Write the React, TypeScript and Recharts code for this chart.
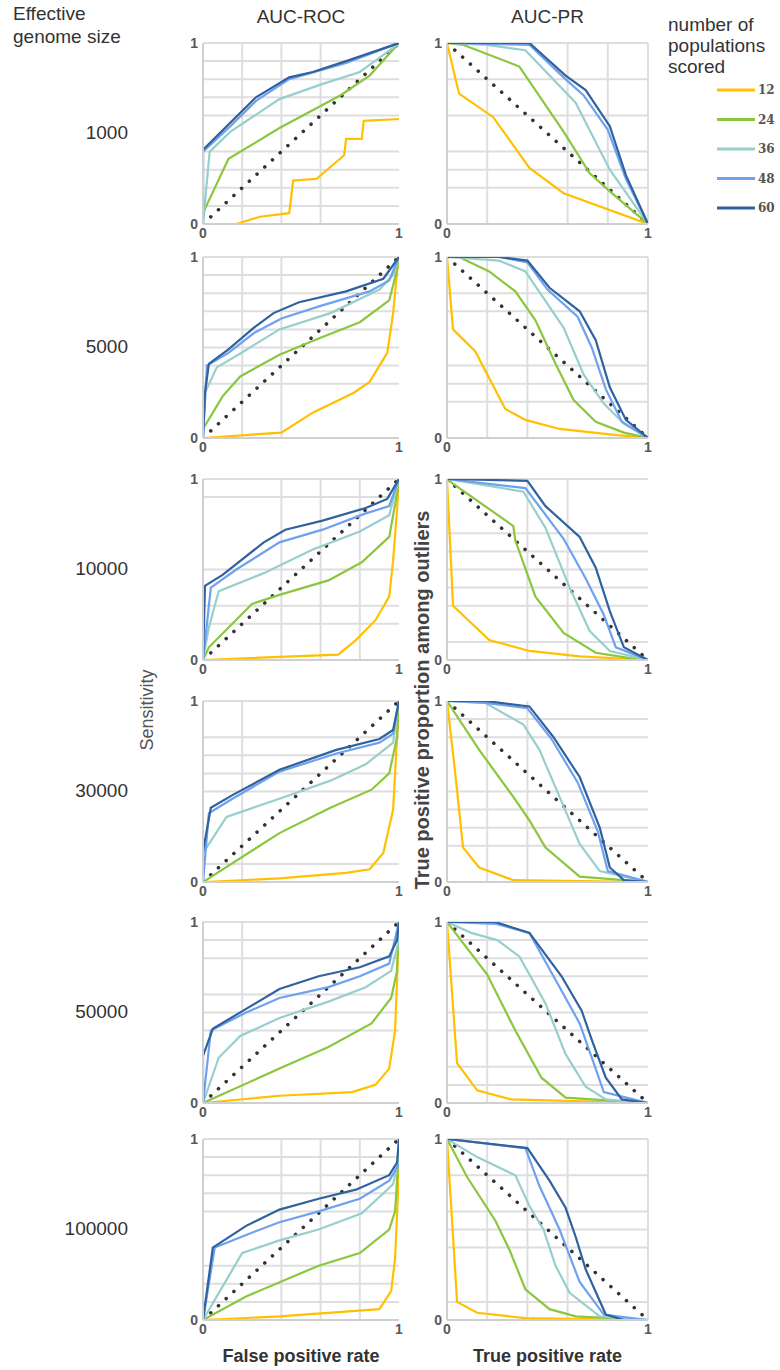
import { LineChart, Line, XAxis, YAxis, ReferenceLine } from 'recharts';

type Pt = [number, number];

// categories
const POPULATIONS = ['12', '24', '36', '48', '60'];
const GENOME_SIZES = ['1000', '5000', '10000', '30000', '50000', '100000'];
const AXIS_TICKS = [0, 1];

// reference diagonals (random classifier)
const ROC_DIAG: Pt[] = [[0, 0], [1, 1]];
const PR_DIAG: Pt[] = [[0, 1], [1, 0]];

// AUC-ROC curves, one list per population count (12, 24, 36, 48, 60)
const ROC_1000: Pt[][] = [
  [[0, 0], [0.17, 0], [0.29, 0.04], [0.44, 0.06], [0.46, 0.24], [0.58, 0.25], [0.72, 0.38], [0.73, 0.47], [0.81, 0.47], [0.82, 0.57], [1, 0.58]],
  [[0, 0.06], [0.13, 0.36], [0.39, 0.53], [0.7, 0.71], [0.85, 0.82], [1, 1]],
  [[0, 0], [0.034, 0.4], [0.14, 0.51], [0.39, 0.69], [0.6, 0.77], [0.8, 0.84], [0.94, 0.95], [1, 1]],
  [[0, 0.02], [0, 0.4], [0.14, 0.54], [0.27, 0.68], [0.44, 0.8], [0.73, 0.89], [1, 1]],
  [[0, 0], [0, 0.41], [0.14, 0.56], [0.27, 0.7], [0.44, 0.81], [0.56, 0.84], [0.73, 0.9], [1, 1]],
];
const ROC_5000: Pt[][] = [
  [[0, 0], [0.4, 0.03], [0.56, 0.14], [0.77, 0.25], [0.85, 0.31], [0.94, 0.47], [0.97, 0.69], [0.995, 0.97], [1, 1]],
  [[0, 0.05], [0.1, 0.23], [0.19, 0.34], [0.39, 0.46], [0.59, 0.55], [0.8, 0.64], [0.95, 0.76], [0.99, 0.93], [1, 1]],
  [[0, 0], [0.01, 0.25], [0.07, 0.39], [0.18, 0.46], [0.39, 0.6], [0.65, 0.69], [0.9, 0.82], [0.97, 0.9], [1, 1]],
  [[0, 0], [0.02, 0.4], [0.13, 0.47], [0.26, 0.58], [0.4, 0.66], [0.6, 0.73], [0.85, 0.81], [0.95, 0.87], [1, 1]],
  [[0, 0], [0.01, 0.25], [0.03, 0.41], [0.13, 0.49], [0.26, 0.61], [0.36, 0.69], [0.49, 0.75], [0.73, 0.81], [0.92, 0.88], [1, 1]],
];
const ROC_10000: Pt[][] = [
  [[0, 0], [0.69, 0.03], [0.78, 0.11], [0.88, 0.22], [0.95, 0.35], [0.97, 0.55], [0.99, 0.83], [1, 1]],
  [[0, 0], [0.03, 0.07], [0.25, 0.31], [0.39, 0.36], [0.64, 0.44], [0.81, 0.54], [0.95, 0.68], [0.99, 0.92], [1, 1]],
  [[0, 0], [0.03, 0.18], [0.08, 0.38], [0.31, 0.48], [0.56, 0.61], [0.8, 0.71], [0.95, 0.8], [1, 1]],
  [[0, 0], [0.04, 0.4], [0.17, 0.5], [0.39, 0.65], [0.61, 0.72], [0.83, 0.81], [0.95, 0.85], [1, 1]],
  [[0, 0], [0.01, 0.41], [0.1, 0.47], [0.31, 0.65], [0.42, 0.72], [0.61, 0.77], [0.83, 0.84], [0.94, 0.89], [1, 1]],
];
const ROC_30000: Pt[][] = [
  [[0, 0], [0.39, 0.02], [0.73, 0.05], [0.85, 0.07], [0.92, 0.16], [0.97, 0.4], [0.99, 0.8], [1, 1]],
  [[0, 0], [0.39, 0.27], [0.65, 0.41], [0.86, 0.51], [0.95, 0.6], [0.99, 0.8], [1, 1]],
  [[0, 0], [0, 0.16], [0.12, 0.36], [0.39, 0.46], [0.65, 0.56], [0.83, 0.65], [0.97, 0.77], [1, 1]],
  [[0, 0], [0.03, 0.38], [0.15, 0.46], [0.39, 0.61], [0.68, 0.71], [0.9, 0.77], [0.97, 0.82], [1, 1]],
  [[0, 0], [0, 0.17], [0.04, 0.41], [0.15, 0.48], [0.39, 0.62], [0.68, 0.73], [0.9, 0.79], [0.97, 0.84], [1, 1]],
];
const ROC_50000: Pt[][] = [
  [[0, 0], [0.39, 0.04], [0.76, 0.06], [0.88, 0.1], [0.95, 0.19], [0.98, 0.4], [0.99, 0.68], [1, 1]],
  [[0, 0], [0.39, 0.19], [0.64, 0.31], [0.86, 0.44], [0.96, 0.58], [0.99, 0.73], [1, 1]],
  [[0, 0], [0.08, 0.25], [0.19, 0.37], [0.39, 0.47], [0.64, 0.56], [0.83, 0.64], [0.96, 0.73], [1, 0.9], [1, 1]],
  [[0, 0], [0.04, 0.4], [0.22, 0.5], [0.39, 0.58], [0.64, 0.64], [0.8, 0.7], [0.95, 0.77], [1, 1]],
  [[0, 0], [0, 0.26], [0.05, 0.41], [0.22, 0.52], [0.39, 0.63], [0.59, 0.7], [0.8, 0.75], [0.95, 0.81], [0.99, 0.9], [1, 1]],
];
const ROC_100000: Pt[][] = [
  [[0, 0], [0.39, 0.02], [0.9, 0.06], [0.96, 0.16], [0.98, 0.34], [1, 0.83], [1, 1]],
  [[0, 0], [0.22, 0.13], [0.59, 0.3], [0.8, 0.37], [0.95, 0.5], [0.98, 0.6], [1, 0.94], [1, 1]],
  [[0, 0], [0.2, 0.37], [0.39, 0.44], [0.59, 0.5], [0.81, 0.59], [0.97, 0.75], [1, 0.9]],
  [[0, 0], [0.06, 0.4], [0.22, 0.47], [0.39, 0.54], [0.59, 0.6], [0.8, 0.67], [0.95, 0.77], [1, 0.86]],
  [[0, 0], [0.05, 0.4], [0.22, 0.52], [0.39, 0.61], [0.59, 0.67], [0.78, 0.72], [0.95, 0.8], [0.99, 0.87], [1, 1]],
];

// AUC-PR curves, one list per population count (12, 24, 36, 48, 60)
const PR_1000: Pt[][] = [
  [[0, 1], [0.06, 0.72], [0.23, 0.59], [0.41, 0.31], [0.58, 0.17], [1, 0]],
  [[0, 1], [0.08, 0.99], [0.36, 0.87], [0.58, 0.51], [0.71, 0.28], [0.81, 0.18], [1, 0]],
  [[0, 1], [0.2, 0.99], [0.39, 0.96], [0.64, 0.67], [0.81, 0.3], [1, 0]],
  [[0, 1], [0.41, 0.99], [0.58, 0.81], [0.68, 0.71], [0.8, 0.52], [0.89, 0.25], [1, 0]],
  [[0, 1], [0.41, 1], [0.59, 0.82], [0.69, 0.74], [0.81, 0.54], [0.89, 0.27], [1, 0]],
];
const PR_5000: Pt[][] = [
  [[0, 1], [0.03, 0.6], [0.14, 0.48], [0.29, 0.16], [0.39, 0.1], [0.56, 0.05], [0.81, 0.02], [1, 0]],
  [[0, 1], [0.06, 1], [0.21, 0.92], [0.34, 0.81], [0.44, 0.65], [0.54, 0.41], [0.63, 0.21], [0.74, 0.09], [0.88, 0.03], [1, 0]],
  [[0, 1], [0.26, 0.98], [0.39, 0.92], [0.58, 0.61], [0.68, 0.35], [0.78, 0.19], [0.88, 0.08], [1, 0]],
  [[0, 1], [0.26, 1], [0.4, 0.97], [0.5, 0.82], [0.65, 0.67], [0.72, 0.5], [0.79, 0.27], [0.87, 0.09], [1, 0]],
  [[0, 1], [0.26, 1], [0.4, 0.98], [0.51, 0.83], [0.66, 0.7], [0.74, 0.54], [0.81, 0.28], [0.89, 0.1], [1, 0]],
];
const PR_10000: Pt[][] = [
  [[0, 1], [0.03, 0.3], [0.21, 0.11], [0.41, 0.05], [0.66, 0.02], [1, 0]],
  [[0, 1], [0.01, 0.99], [0.33, 0.74], [0.34, 0.66], [0.44, 0.35], [0.58, 0.15], [0.74, 0.04], [0.91, 0.01], [1, 0]],
  [[0, 1], [0.38, 0.93], [0.49, 0.73], [0.61, 0.4], [0.71, 0.16], [0.81, 0.05], [1, 0]],
  [[0, 1], [0.39, 0.95], [0.58, 0.67], [0.69, 0.45], [0.78, 0.25], [0.84, 0.07], [1, 0]],
  [[0, 1], [0.4, 0.99], [0.49, 0.85], [0.66, 0.68], [0.74, 0.51], [0.81, 0.27], [0.88, 0.07], [1, 0]],
];
const PR_30000: Pt[][] = [
  [[0, 1], [0.04, 0.61], [0.08, 0.19], [0.16, 0.08], [0.33, 0.01], [1, 0]],
  [[0, 1], [0.16, 0.73], [0.33, 0.47], [0.41, 0.34], [0.49, 0.19], [0.66, 0.03], [1, 0]],
  [[0, 1], [0.19, 0.99], [0.38, 0.87], [0.46, 0.73], [0.56, 0.47], [0.66, 0.21], [0.76, 0.06], [1, 0]],
  [[0, 1], [0.19, 0.99], [0.4, 0.96], [0.52, 0.79], [0.65, 0.55], [0.75, 0.28], [0.8, 0.06], [1, 0]],
  [[0, 1], [0.19, 1], [0.41, 0.97], [0.53, 0.8], [0.66, 0.58], [0.76, 0.3], [0.81, 0.08], [0.88, 0.01], [1, 0]],
];
const PR_50000: Pt[][] = [
  [[0, 1], [0.05, 0.22], [0.15, 0.07], [0.32, 0.02], [1, 0]],
  [[0, 1], [0.2, 0.71], [0.34, 0.4], [0.47, 0.14], [0.59, 0.03], [1, 0]],
  [[0, 1], [0.12, 0.94], [0.25, 0.9], [0.36, 0.81], [0.49, 0.55], [0.59, 0.27], [0.69, 0.09], [0.79, 0.02], [1, 0]],
  [[0, 1], [0.24, 0.99], [0.41, 0.94], [0.55, 0.66], [0.66, 0.44], [0.73, 0.22], [0.78, 0.06], [1, 0]],
  [[0, 1], [0.24, 1], [0.41, 0.94], [0.57, 0.7], [0.67, 0.51], [0.72, 0.35], [0.79, 0.14], [0.87, 0.02], [1, 0]],
];
const PR_100000: Pt[][] = [
  [[0, 1], [0.05, 0.1], [0.15, 0.04], [0.39, 0.01], [1, 0]],
  [[0, 1], [0.1, 0.79], [0.24, 0.55], [0.31, 0.39], [0.39, 0.17], [0.51, 0.06], [0.64, 0.02], [1, 0]],
  [[0, 1], [0.15, 0.9], [0.34, 0.8], [0.41, 0.63], [0.48, 0.5], [0.54, 0.3], [0.61, 0.15], [0.76, 0.02], [1, 0]],
  [[0, 1], [0.39, 0.95], [0.46, 0.74], [0.56, 0.5], [0.66, 0.21], [0.78, 0.03], [1, 0]],
  [[0, 1], [0.4, 0.95], [0.51, 0.77], [0.59, 0.62], [0.64, 0.46], [0.69, 0.28], [0.79, 0.03], [0.88, 0], [1, 0]],
];

const ROC_ROWS = [ROC_1000, ROC_5000, ROC_10000, ROC_30000, ROC_50000, ROC_100000];
const PR_ROWS = [PR_1000, PR_5000, PR_10000, PR_30000, PR_50000, PR_100000];

// gridlines as they show in each panel
const ROC_HGRID = [
  [0.1, 0.2, 0.3, 0.4, 0.6, 0.7, 0.8, 0.9, 1],
  [0.3, 0.4, 0.5, 0.6, 0.7, 0.8, 0.9, 1],
  [0.2, 0.3, 0.5, 0.9, 1],
  [0.1, 0.5, 0.6, 0.7, 0.8, 1],
  [0.4, 0.5, 0.6, 0.8, 0.9, 1],
  [0.1, 0.2, 0.3, 0.6, 0.7, 0.8, 0.9, 1],
];
const ROC_VGRID = [[0.2, 0.4, 0.6], [0.2, 0.4], [0.4, 0.6, 0.8], [0.2], [0.2], [0.4, 0.6, 0.8]];
const PR_HGRID = [
  [0.2, 0.3, 0.4, 0.6, 0.8, 1],
  [0.2, 0.3, 0.4, 0.7, 0.8, 1],
  [0.1, 0.3, 0.4, 0.5, 0.6, 0.7, 1],
  [0.2, 0.3, 0.4, 0.5, 0.8, 0.9],
  [0.1, 0.2, 0.4, 0.5, 0.7, 0.8, 0.9, 1],
  [0.1, 0.4, 0.5, 0.6, 0.8, 1],
];
const PR_VGRID = [[0.2, 0.6, 0.8, 1], [0.2, 0.4, 1], [0.4, 0.6], [0.2, 0.4], [0.2], [0.2, 0.4, 0.6, 1]];

const COLORS = ['#FFC000', '#8CC63F', '#97CFCC', '#6FA1EE', '#2F629E'];
const GRID = '#dedede';
const FONT = '"Liberation Sans", Arial, sans-serif';

const ROW_TOP = [43, 257, 479, 701, 922, 1139];
const PLOT_H = 181;
const ROC_LEFT = 203;
const ROC_W = 196;
const PR_LEFT = 447;
const PR_W = 201;

const toRows = (pts: Pt[]) => pts.map(([x, y]) => ({ x, y }));

interface PanelProps {
  left: number;
  top: number;
  width: number;
  curves: Pt[][];
  diag: Pt[];
  hGrid: number[];
  vGrid: number[];
}

function Panel({ left, top, width, curves, diag, hGrid, vGrid }: PanelProps) {
  const tick = { fill: '#595959', fontSize: 14, fontWeight: 700, fontFamily: FONT };
  return (
    <div style={{ position: 'absolute', left: left - 30, top: top - 10 }}>
      <LineChart width={width + 42} height={PLOT_H + 32} margin={{ top: 10, right: 12, bottom: 0, left: 0 }}>
        <XAxis
          type="number"
          dataKey="x"
          domain={[0, 1]}
          ticks={AXIS_TICKS}
          interval={0}
          height={22}
          tick={tick}
          tickSize={0}
          tickMargin={4}
          axisLine={{ stroke: '#cfcfcf', strokeWidth: 2 }}
          allowDataOverflow
        />
        <YAxis
          type="number"
          dataKey="y"
          domain={[0, 1]}
          ticks={AXIS_TICKS}
          interval={0}
          width={30}
          tick={tick}
          tickSize={0}
          tickMargin={5}
          axisLine={{ stroke: '#cfcfcf', strokeWidth: 2 }}
          allowDataOverflow
        />
        {hGrid.map((v) => (
          <ReferenceLine key={'h' + v} y={v} stroke={GRID} strokeWidth={2} />
        ))}
        {vGrid.map((v) => (
          <ReferenceLine key={'v' + v} x={v} stroke={GRID} strokeWidth={2} />
        ))}
        <Line
          data={toRows(diag)}
          dataKey="y"
          stroke="#333"
          strokeWidth={3.5}
          strokeDasharray="0.1 10.4"
          strokeLinecap="round"
          dot={false}
          activeDot={false}
          isAnimationActive={false}
        />
        {curves.map((pts, i) => (
          <Line
            key={POPULATIONS[i]}
            data={toRows(pts)}
            dataKey="y"
            name={POPULATIONS[i]}
            stroke={COLORS[i]}
            strokeWidth={2.2}
            dot={false}
            activeDot={false}
            isAnimationActive={false}
          />
        ))}
      </LineChart>
    </div>
  );
}

const text = (extra: React.CSSProperties): React.CSSProperties => ({
  position: 'absolute',
  fontFamily: FONT,
  color: '#333',
  whiteSpace: 'nowrap',
  ...extra,
});

export default function App() {
  return (
    <div style={{ position: 'absolute', left: 0, top: 0, width: 780, height: 1370, background: '#fff', overflow: 'hidden' }}>
      <div style={text({ left: 13, top: 2, fontSize: 19, lineHeight: '23px' })}>
        Effective
        <br />
        genome size
      </div>
      <div style={text({ left: ROC_LEFT, width: ROC_W, top: 6, fontSize: 19, textAlign: 'center' })}>AUC-ROC</div>
      <div style={text({ left: PR_LEFT, width: PR_W, top: 6, fontSize: 19, textAlign: 'center' })}>AUC-PR</div>
      <div style={text({ left: 668, top: 14, fontSize: 19, lineHeight: '21px' })}>
        number of
        <br />
        populations
        <br />
        scored
      </div>
      <svg style={{ position: 'absolute', left: 700, top: 80 }} width={80} height={140}>
        {POPULATIONS.map((p, i) => (
          <g key={p}>
            <line x1={17} x2={55} y1={10 + i * 29.5} y2={10 + i * 29.5} stroke={COLORS[i]} strokeWidth={3} />
            <text
              x={58}
              y={10 + i * 29.5}
              dy="0.35em"
              fontSize={12}
              fontWeight={700}
              fill="#555"
              fontFamily='"DejaVu Serif", serif'
            >
              {p}
            </text>
          </g>
        ))}
      </svg>

      {GENOME_SIZES.map((g, r) => (
        <div key={g} style={text({ left: 28, width: 100, top: ROW_TOP[r] + 79, fontSize: 19, textAlign: 'right' })}>
          {g}
        </div>
      ))}

      {GENOME_SIZES.map((g, r) => (
        <Panel
          key={'roc' + g}
          left={ROC_LEFT}
          top={ROW_TOP[r]}
          width={ROC_W}
          curves={ROC_ROWS[r]}
          diag={ROC_DIAG}
          hGrid={ROC_HGRID[r]}
          vGrid={ROC_VGRID[r]}
        />
      ))}
      {GENOME_SIZES.map((g, r) => (
        <Panel
          key={'pr' + g}
          left={PR_LEFT}
          top={ROW_TOP[r]}
          width={PR_W}
          curves={PR_ROWS[r]}
          diag={PR_DIAG}
          hGrid={PR_HGRID[r]}
          vGrid={PR_VGRID[r]}
        />
      ))}

      <div
        style={text({
          left: 147,
          top: 710,
          fontSize: 18,
          color: '#555',
          transform: 'translate(-50%, -50%) rotate(-90deg)',
        })}
      >
        Sensitivity
      </div>
      <div
        style={text({
          left: 422,
          top: 700,
          fontSize: 20,
          fontWeight: 700,
          color: '#444',
          transform: 'translate(-50%, -50%) rotate(-90deg)',
        })}
      >
        True positive proportion among outliers
      </div>
      <div style={text({ left: ROC_LEFT - 20, width: ROC_W + 40, top: 1346, fontSize: 18, fontWeight: 700, textAlign: 'center' })}>
        False positive rate
      </div>
      <div style={text({ left: PR_LEFT - 20, width: PR_W + 40, top: 1346, fontSize: 18, fontWeight: 700, textAlign: 'center' })}>
        True positive rate
      </div>
    </div>
  );
}
